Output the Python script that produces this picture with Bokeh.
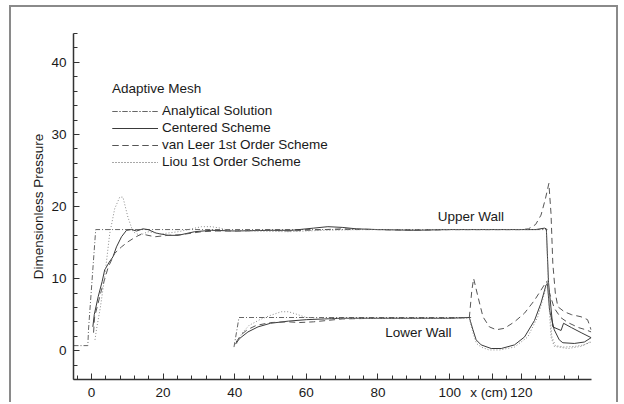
from bokeh.plotting import figure
from bokeh.models import (Range1d, SingleIntervalTicker, FixedTicker, Legend, LegendItem, Label)
from bokeh.embed import file_html
from bokeh.resources import INLINE

# ---------------- data ----------------
# Upper wall
ana_up_x = [-5, -1.0, -0.8, 1.2, 127.3]
ana_up_y = [0.7, 0.7, 3.0, 16.8, 16.8]

cen_up_x = [0.4, 0.8, 1.9, 3.0, 3.7, 5.0, 6.0, 7.0, 8.4, 9.8, 11.2, 12.6, 14.4, 15.8, 18.1, 21.4,
            24.2, 28.8, 33.5, 40, 50, 56, 62, 66, 70, 74, 80, 90, 100, 110, 120, 124, 126.5, 127.0,
            127.6, 128.8, 131.1, 131.8, 134.0, 136.7, 139.5]
cen_up_y = [3.3, 5.0, 7.5, 9.6, 11.2, 12.3, 13.0, 14.4, 15.8, 16.7, 16.8, 16.6, 16.9, 16.8, 16.3, 16.0,
            16.0, 16.5, 16.7, 16.6, 16.7, 16.7, 17.0, 17.2, 17.1, 16.9, 16.8, 16.7, 16.8, 16.8, 16.8, 16.8,
            17.0, 16.9, 9.5, 3.3, 2.8, 3.8, 3.2, 2.5, 1.8]

vl_up_x = [0.6, 0.9, 2.8, 4.7, 6.5, 8.4, 10.2, 12.1, 14.0, 15.8, 17.7, 21.4, 25.1, 30.7, 35, 40, 50,
           55, 60, 70, 80, 90, 100, 110, 120, 122, 124, 125.5, 126.7, 127.7, 128.3, 128.8, 129.5,
           130.2, 132, 134, 136.7, 138.5, 139.5]
vl_up_y = [2.5, 4.7, 8.4, 11.6, 13.5, 14.4, 15.1, 15.7, 16.2, 16.0, 15.8, 16.0, 16.1, 16.5, 16.6, 16.6,
           16.7, 16.6, 16.7, 16.9, 16.8, 16.7, 16.8, 16.8, 16.8, 16.9, 17.5, 18.8, 21.0, 23.2, 19.0,
           12.1, 8.0, 6.1, 5.4, 5.0, 4.7, 4.3, 2.9]

li_up_x = [1.0, 1.4, 2.5, 3.7, 5.1, 6.5, 7.9, 8.8, 10.2, 11.6, 13.5, 15.8, 19.5, 24.2, 28, 30.7, 33.5,
           36, 38.1, 45, 55, 65, 75, 85, 95, 105, 115, 125, 127.0, 127.6, 128.5, 129.5, 132, 135,
           137.5, 139.5]
li_up_y = [1.5, 2.9, 6.0, 10.2, 16.2, 19.7, 21.3, 21.3, 18.5, 16.5, 16.0, 16.5, 16.2, 16.5, 16.9, 17.2,
           17.2, 17.0, 16.7, 16.6, 16.5, 16.7, 16.8, 16.8, 16.8, 16.8, 16.8, 16.8, 16.8, 9.0, 2.0, 0.7,
           0.5, 0.6, 0.8, 1.2]

# Lower wall
ana_lo_x = [39.8, 41.2, 106.0]
ana_lo_y = [0.5, 4.6, 4.6]

cen_lo_x = [40.2, 41.4, 43.7, 46.5, 50, 55, 60, 65, 70, 80, 90, 100, 105.5, 106.5, 107.4, 108.8, 111.6,
            114.4, 118.1, 120.9, 123.7, 125.5, 126.9, 127.3, 127.9, 129.2, 130.6, 131.6, 134.8, 137.6,
            139.5]
cen_lo_y = [0.9, 1.7, 2.6, 3.3, 3.8, 4.1, 4.3, 4.4, 4.5, 4.5, 4.5, 4.5, 4.6, 2.9, 1.5, 0.8, 0.3,
            0.3, 0.8, 1.9, 4.2, 6.6, 9.1, 9.3, 5.6, 2.9, 1.5, 1.1, 1.0, 1.2, 1.8]

vl_lo_x = [40.4, 41.8, 43.5, 46, 50, 55, 58, 62, 66, 70, 80, 90, 100, 105.5, 106.2, 106.7, 107.9, 109.3,
           111.1, 113, 115.3, 118.1, 120.9, 123.7, 126.4, 127.1, 128, 129.2, 131, 133, 136, 138, 139.5]
vl_lo_y = [1.2, 2.2, 2.9, 3.5, 3.9, 4.0, 3.9, 4.0, 4.2, 4.4, 4.5, 4.5, 4.5, 4.6, 8.4, 10.0, 7.5, 4.7,
           3.3, 2.9, 3.1, 4.0, 5.2, 7.0, 9.1, 9.6, 7.8, 5.9, 4.6, 3.9, 3.2, 2.9, 2.6]

li_lo_x = [40.6, 42, 44, 47, 50, 53, 55, 57, 60, 65, 70, 80, 90, 100, 105.5, 106.5, 107.5, 108.8, 111,
           114, 118.1, 121.8, 124.6, 126.5, 127.3, 128.3, 129.2, 133, 136.7, 139.5]
li_lo_y = [1.0, 2.4, 3.5, 4.3, 4.9, 5.4, 5.4, 5.1, 4.6, 4.5, 4.5, 4.5, 4.5, 4.5, 4.5, 2.5, 1.0, 0.5,
           0.1, 0.1, 0.5, 1.9, 4.7, 8.0, 9.8, 1.9, 0.6, 0.3, 0.6, 1.3]

x_ticks = [0, 20, 40, 60, 80, 100, 120]
x_minor_ticks = [-4, 4, 8, 12, 16, 24, 28, 32, 36, 44, 48, 52, 56, 64, 68, 72, 76, 84, 88, 92, 96,
                 104, 108, 112, 116, 124, 128, 132, 136]
x_label_pos = 112          # "x (cm)" sits between the 100 and 120 tick labels

series_labels = ["Analytical Solution", "Centered Scheme", "van Leer 1st Order Scheme",
                 "Liou 1st Order Scheme"]
legend_title = "Adaptive Mesh"
x_label = "x (cm)"
y_label = "Dimensionless Pressure"
upper_label = "Upper Wall"
lower_label = "Lower Wall"

FONT = "Liberation Sans"
TXT = "#1a1a1a"

p = figure(width=609, height=397, output_backend="svg", toolbar_location=None,
           x_range=Range1d(-5, 139.6), y_range=Range1d(-4, 44),
           min_border_left=62, min_border_right=29, min_border_top=26, min_border_bottom=25)
p.styles = {"margin-left": "9px", "margin-top": "5px",
            "border-left": "2px solid #8a8a8a", "border-top": "2px solid #8a8a8a",
            "border-right": "2px solid #8a8a8a"}
p.outline_line_color = None
p.grid.visible = False
p.background_fill_color = "white"
p.border_fill_color = "white"

p.xaxis.ticker = FixedTicker(ticks=x_ticks + [x_label_pos], minor_ticks=x_minor_ticks)
p.xaxis.major_label_overrides = {x_label_pos: x_label + "\u00a0\u00a0"}
p.yaxis.ticker = SingleIntervalTicker(interval=10, num_minor_ticks=5)
for ax in (p.xaxis, p.yaxis):
    ax.axis_line_color = "#333333"
    ax.axis_line_width = 1.5
    ax.major_tick_line_color = "#333333"
    ax.minor_tick_line_color = "#333333"
    ax.major_tick_in = 6
    ax.major_tick_out = 0
    ax.minor_tick_in = 4
    ax.minor_tick_out = 0
    ax.major_label_text_font = FONT
    ax.major_label_text_font_size = "13.5px"
    ax.major_label_text_color = TXT
p.xaxis.major_label_standoff = 5
p.yaxis.major_label_standoff = 7
p.yaxis.axis_label = y_label
p.yaxis.axis_label_text_font = FONT
p.yaxis.axis_label_text_font_size = "13.5px"
p.yaxis.axis_label_text_font_style = "normal"
p.yaxis.axis_label_text_color = TXT
p.yaxis.axis_label_standoff = 2

styles = [
    dict(line_color="#666666", line_dash="5 2 1 2"),
    dict(line_color="#3a3a3a"),
    dict(line_color="#555555", line_dash="6 4"),
    dict(line_color="#8a8a8a", line_dash="1 2"),
]
pairs = [
    ((ana_up_x, ana_up_y), (ana_lo_x, ana_lo_y)),
    ((cen_up_x, cen_up_y), (cen_lo_x, cen_lo_y)),
    ((vl_up_x, vl_up_y), (vl_lo_x, vl_lo_y)),
    ((li_up_x, li_up_y), (li_lo_x, li_lo_y)),
]
items = []
for lab, st, (up, lo) in zip(series_labels, styles, pairs):
    r1 = p.line(up[0], up[1], line_width=1, **st)
    r2 = p.line(lo[0], lo[1], line_width=1, **st)
    items.append(LegendItem(label=lab, renderers=[r1, r2]))

legend = Legend(items=items, title=legend_title, location=(39, 210),
                glyph_width=46, glyph_height=14, label_height=14, spacing=2,
                padding=0, margin=0, label_standoff=4,
                border_line_color=None, background_fill_alpha=0,
                title_text_font=FONT, title_text_font_size="13.5px",
                title_text_font_style="normal", title_text_color=TXT, title_standoff=7,
                label_text_font=FONT, label_text_font_size="13.5px", label_text_color=TXT)
p.add_layout(legend)

p.add_layout(Label(x=96.7, y=18.55, text=upper_label, text_font=FONT, text_font_size="13.5px",
                   text_color=TXT, text_baseline="middle", text_align="left"))
p.add_layout(Label(x=82.0, y=2.5, text=lower_label, text_font=FONT, text_font_size="13.5px",
                   text_color=TXT, text_baseline="middle", text_align="left"))

open("out.html", "w").write(file_html(p, INLINE))
